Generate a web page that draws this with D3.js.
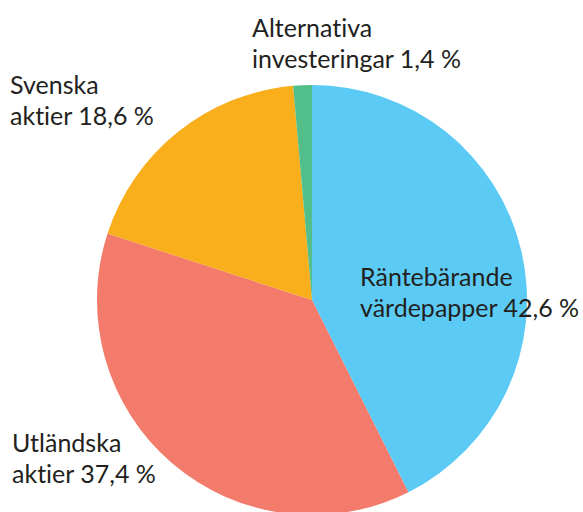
<!DOCTYPE html>
<html>
<head>
<meta charset="utf-8">
<script src="https://cdn.jsdelivr.net/npm/d3@7"></script>
<style>
  body { margin: 0; background: #fff; }
  text { font-family: "Source Sans Pro", Lato, "Noto Sans", sans-serif; fill: #231f20; font-variant-ligatures: none; font-feature-settings: "liga" 0; }
</style>
</head>
<body>
<div id="chart"></div>
<script>
// Fördelning per tillgångsslag
const categories = ["Räntebärande värdepapper", "Utländska aktier", "Svenska aktier", "Alternativa investeringar"];
const shares = [42.6, 37.4, 18.6, 1.4];
const colors = ["#5bcbf5", "#f27b6b", "#f9ae1c", "#52be8a"];
const labelLines = [
    ["Räntebärande", "värdepapper 42,6 %"],
    ["Utländska", "aktier 37,4 %"],
    ["Svenska", "aktier 18,6 %"],
    ["Alternativa", "investeringar 1,4 %"]
];

const width = 583, height = 512;
const cx = 312, cy = 300, radius = 215;

const svg = d3.select("#chart").append("svg")
    .attr("width", width)
    .attr("height", height);

const pie = d3.pie().sort(null).value(d => d)(shares);
const arc = d3.arc().innerRadius(0).outerRadius(radius);

const g = svg.append("g").attr("transform", `translate(${cx},${cy})`);

g.selectAll("path")
    .data(pie)
    .enter()
    .append("path")
    .attr("d", arc)
    .attr("fill", (d, i) => colors[i]);

// label anchors (first line baseline)
const labelPos = [[360, 286], [12, 452], [10, 94], [252, 37]];
const lineHeight = 31;

labelLines.forEach((lines, i) => {
    const t = svg.append("text")
        .attr("x", labelPos[i][0])
        .attr("y", labelPos[i][1])
        .attr("font-size", 25);
    lines.forEach((l, j) => {
        t.append("tspan")
            .attr("x", labelPos[i][0])
            .attr("dy", j === 0 ? 0 : lineHeight)
            .text(l);
    });
});
</script>
</body>
</html>
